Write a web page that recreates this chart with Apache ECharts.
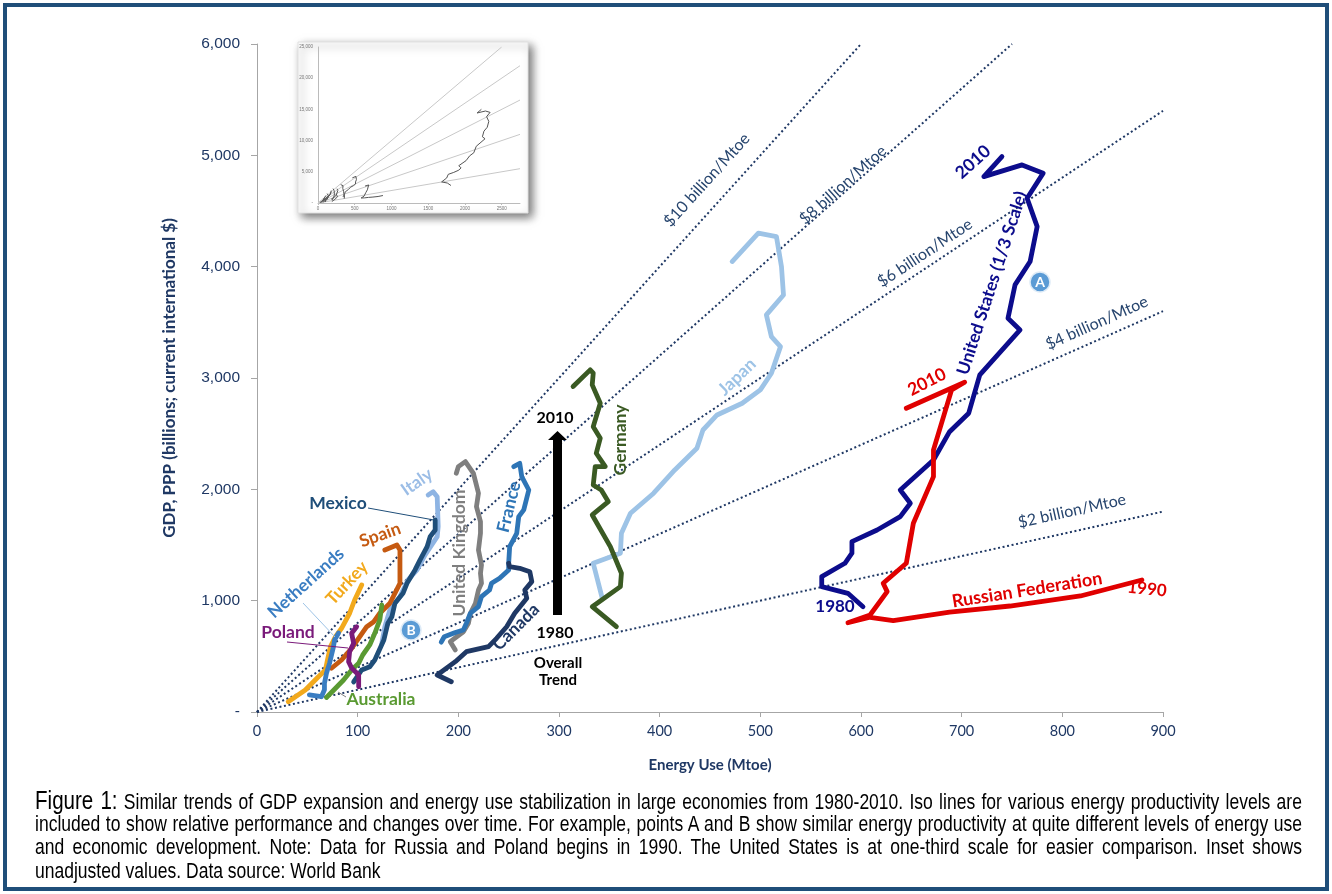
<!DOCTYPE html>
<html>
<head>
<meta charset="UTF-8">
<title>Energy use vs GDP</title>
<script src="https://cdn.jsdelivr.net/npm/echarts@6/dist/echarts.min.js"></script>
<style>
body{margin:0;background:#fff;}
#frame{position:absolute;left:3px;top:3px;width:1318px;height:880px;border:4px solid #1f4e79;}
#box{position:absolute;left:0;top:0;width:1332px;height:894px;}
#cap{position:absolute;left:35px;top:789px;width:1267px;font-family:'Liberation Sans',sans-serif;font-size:21.3px;color:#000;}
#cap div{width:1540px;height:23.5px;line-height:23.5px;text-align:justify;text-align-last:justify;transform:scaleX(0.8227);transform-origin:0 0;}
#cap div.last{text-align-last:left;}
#cap .fig{font-size:25px;}
</style>
</head>
<body>
<div id="frame"></div>
<div id="box"></div>
<div id="cap">
<div><span class="fig">Figure 1:</span> Similar trends of GDP expansion and energy use stabilization in large economies from 1980-2010. Iso lines for various energy productivity levels are</div>
<div>included to show relative performance and changes over time. For example, points A and B show similar energy productivity at quite different levels of energy use</div>
<div>and economic development. Note: Data for Russia and Poland begins in 1990. The United States is at one-third scale for easier comparison. Inset shows</div>
<div class="last">unadjusted values. Data source: World Bank</div>
</div>

<script type="text/javascript">

// energy use (Mtoe), GDP PPP (billions)
var isoLevels=[2,4,6,8,10];
var isoNames=['$2 billion/Mtoe','$4 billion/Mtoe','$6 billion/Mtoe','$8 billion/Mtoe','$10 billion/Mtoe'];

var germany=[[357,766],[333,946],[361,1126],[362,1246],[351,1485],[333,1770],[349,1889],[342,1994],[334,2039],[336,2204],[346,2204],[337,2324],[341,2459],[334,2563],[341,2773],[333,2938],[334,3043],[331,3073],[314,2923]];
var japan=[[343,1020],[334,1336],[361,1426],[362,1605],[371,1785],[394,1965],[415,2174],[437,2369],[443,2533],[457,2668],[482,2773],[500,2893],[511,3043],[520,3282],[511,3372],[506,3567],[523,3746],[521,4001],[516,4270],[498,4301],[472,4046]];
// US plotted at 1/3 scale
var us=[[602,946],[587,1066],[561,1126],[561,1216],[584,1336],[591,1426],[591,1530],[616,1635],[639,1755],[649,1875],[639,1994],[672,2264],[688,2518],[707,2684],[718,3028],[758,3432],[746,3537],[753,3836],[768,4046],[775,4360],[765,4615],[781,4840],[760,4914],[722,4809],[740,4989]];
var russia=[[879,1186],[818,1042],[748,952],[688,898],[632,820],[609,851],[587,802],[609,871],[626,1081],[622,1156],[645,1336],[652,1695],[672,2114],[672,2354],[690,2893],[703,2962],[645,2728]];
var canada=[[193,272],[179,332],[197,452],[208,542],[230,587],[238,662],[248,766],[256,887],[268,1021],[266,1096],[273,1171],[271,1260],[261,1291],[251,1305],[250,1336]];
var france=[[183,627],[186,676],[197,714],[205,737],[208,797],[212,887],[220,946],[223,1036],[231,1096],[233,1156],[241,1201],[250,1276],[250,1336],[251,1485],[258,1605],[260,1755],[265,1815],[270,1994],[263,2114],[261,2234],[255,2204]];
var uk=[[197,557],[192,632],[205,721],[210,797],[212,887],[217,977],[220,1096],[223,1156],[222,1246],[223,1321],[220,1455],[222,1605],[222,1710],[218,1845],[220,1965],[215,2144],[207,2249],[200,2204],[198,2144]];
var italy=[[124,617],[127,766],[132,916],[142,1036],[150,1186],[159,1276],[167,1411],[179,1575],[180,1665],[179,1934],[175,1979],[170,1950]];
var mexico=[[96,270],[104,377],[112,407],[117,467],[126,647],[130,797],[134,856],[137,977],[145,1066],[149,1156],[157,1276],[162,1366],[169,1485],[172,1575],[177,1635],[177,1725]];
var spain=[[74,393],[84,467],[94,572],[109,766],[116,811],[122,887],[132,977],[142,1156],[142,1276],[142,1455],[139,1500],[127,1455]];
var turkey=[[31,93],[48,198],[61,317],[68,377],[70,467],[73,587],[78,677],[84,752],[92,887],[97,1006],[104,1141]];
var netherlands=[[52,153],[64,137],[67,200],[67,258],[69,348],[72,437],[76,587],[77,647],[81,710]];
var poland=[[101,227],[101,332],[94,395],[91,452],[92,542],[96,617],[94,707],[99,766]];
var australia=[[69,130],[78,213],[86,287],[94,377],[101,438],[105,512],[112,602],[117,707],[122,827],[124,961]];

var insetXMax=2750, insetYMax=25000;

var mychart=echarts.init(document.getElementById('box'));

function path(data,color,z,xi){
  return {type:'line',data:data,xAxisIndex:xi||0,yAxisIndex:xi||0,symbol:'none',smooth:false,silent:true,z:z,
    lineStyle:{color:color,width:xi?1:4.8,cap:'round',join:'round'}};
}

function isoLine(level,xmax,ymax,style,xi){
  var xe=Math.min(xmax,ymax/level);
  return {type:'line',data:[[0,0],[xe,level*xe]],xAxisIndex:xi||0,yAxisIndex:xi||0,symbol:'none',silent:true,z:1,lineStyle:style};
}

function label(text,x,y,rot,color,size,weight,font){
  return {type:'text',x:x,y:y,rotation:rot*Math.PI/180,z:50,
    style:{text:text,fill:color,font:(weight||'bold')+' '+size+'px '+(font||'Lato, sans-serif'),
      align:'center',verticalAlign:'middle',textAlign:'center',textVerticalAlign:'middle'}};
}
function lead(x1,y1,x2,y2,color){
  return {type:'line',z:40,shape:{x1:x1,y1:y1,x2:x2,y2:y2},style:{stroke:color,lineWidth:1}};
}

var series=[];
isoLevels.forEach(function(l){
  series.push(isoLine(l,900,6000,{color:'#1f3864',width:2,type:[2,2.6]},0));
});
series.push(path(italy,'#8eb4e3',3));
series.push(path(mexico,'#1f4e79',4));
series.push(path(japan,'#9dc3e6',3));
series.push(path(germany,'#3a5a23',4));
series.push(path(uk,'#7f7f7f',3));
series.push(path(france,'#2e75b6',4));
series.push(path(canada,'#1f3864',5));
series.push(path(us,'#0c0c8c',4));
series.push(path(russia,'#e00000',5));
series.push(path(spain,'#c55a11',4));
series.push(path(turkey,'#f2a91c',5));
series.push(path(netherlands,'#3a7dc2',6));
series.push(path(australia,'#5a9a32',6));
series.push(path(poland,'#7a1a7a',7));

// inset: unadjusted values
isoLevels.forEach(function(l){
  series.push(isoLine(l,insetXMax,insetYMax,{color:'#c8c8c8',width:1},1));
});
[germany,japan,russia,canada,france,uk,italy,mexico,spain,turkey,netherlands,poland,australia].forEach(function(d){
  series.push(path(d,'#555555',3,1));
});
series.push(path(us.map(function(p){return [p[0]*3,p[1]*3];}),'#555555',3,1));

var navy='#1f3864';
var isoColor='#27456e';

var option={
  animation:false,
  grid:[
    {left:257,right:169,top:44,bottom:182},
    {left:318,right:812,top:47,bottom:691}
  ],
  xAxis:[
    {type:'value',min:0,max:900,interval:100,
     name:'Energy Use (Mtoe)',nameLocation:'middle',nameGap:46,
     nameTextStyle:{color:navy,fontFamily:'Lato',fontWeight:'bold',fontSize:15},
     axisLine:{lineStyle:{color:'#a6a6a6'}},axisTick:{length:5,lineStyle:{color:'#a6a6a6'}},
     axisLabel:{color:navy,fontFamily:'Lato',fontSize:14.5,margin:12},splitLine:{show:false}},
    {gridIndex:1,type:'value',min:0,max:insetXMax,interval:500,
     axisLine:{lineStyle:{color:'#bbbbbb'}},axisTick:{length:2,lineStyle:{color:'#bbbbbb'}},
     axisLabel:{color:'#777',fontSize:4.5,margin:3,showMaxLabel:false,formatter:function(v){return String(v);}},splitLine:{show:false}}
  ],
  yAxis:[
    {type:'value',min:0,max:6000,interval:1000,
     name:'GDP, PPP (billions; current international $)',nameLocation:'middle',nameGap:79,
     nameTextStyle:{color:navy,fontFamily:'Lato',fontWeight:'bold',fontSize:17},
     axisLine:{show:true,lineStyle:{color:'#a6a6a6'}},axisTick:{show:true,length:6,lineStyle:{color:'#a6a6a6'}},
     axisLabel:{color:navy,fontFamily:'Liberation Sans',fontSize:15.5,margin:17,
       formatter:function(v){return v===0?'-':v.toLocaleString('en-US');}},
     splitLine:{show:false}},
    {gridIndex:1,type:'value',min:0,max:insetYMax,interval:5000,
     axisLine:{show:true,lineStyle:{color:'#bbbbbb'}},axisTick:{show:false},
     axisLabel:{color:'#777',fontSize:4.5,margin:5,
       formatter:function(v){return v===0?'-':v.toLocaleString('en-US');}},
     splitLine:{show:false}}
  ],
  series:series,
  graphic:[
    {type:'rect',z:-1,shape:{x:298,y:42,width:230,height:171},
     style:{fill:'#fff',stroke:'#e0e0e0',lineWidth:1,shadowBlur:9,shadowOffsetX:4,shadowOffsetY:4,shadowColor:'rgba(0,0,0,0.55)'}},
    // iso-line labels
    label(isoNames[4],707,180,47.9,isoColor,16,'normal'),
    label(isoNames[3],843,185,41.5,isoColor,16,'normal'),
    label(isoNames[2],925,253,33.6,isoColor,16,'normal'),
    label(isoNames[1],1097,323,23.9,isoColor,16,'normal'),
    label(isoNames[0],1072,511,12.5,isoColor,16,'normal'),
    // country labels
    label('Mexico',338,503,0,'#1f4e79',17.5),
    lead(368,508,434,520,'#1f4e79'),
    label('Italy',417,482,35,'#9bbde6',17.5),
    label('Spain',380,535,20,'#c55a11',17.5),
    label('Netherlands',306,583,42,'#3a7dc2',17.5),
    lead(303,603,335,637,'#9dc3e6'),
    label('Turkey',347,583,47,'#f2a91c',17.5),
    label('Poland',288,632,0,'#7a1a7a',17.5),
    lead(287,642,348,648,'#7a1a7a'),
    label('Australia',381,699,0,'#5a9a32',17.5),
    lead(338,692,346,697,'#7f7f7f'),
    label('United Kingdom',459,553,90,'#7f7f7f',17.5),
    label('France',509,507,76,'#2e75b6',17.5),
    label('Canada',516,627,45,'#1f3864',17.5),
    label('Germany',620,440,90,'#3a5a23',17.5),
    label('Japan',737,377,44,'#9dc3e6',17.5),
    label('United States (1/3 Scale)',992,283,72,'#0c0c8c',17.5),
    label('2010',973,162,42,'#0c0c8c',17.5),
    label('1980',835,607,0,'#0c0c8c',17),
    label('2010',927,382,27,'#e00000',17.5),
    label('Russian Federation',1027,590,9,'#e00000',18),
    label('1990',1147,589,-6,'#e00000',17),
    // A / B markers
    {type:'circle',z:45,shape:{cx:411,cy:630,r:10},style:{fill:'#5b9bd5',stroke:'#deebf7',lineWidth:1.5}},
    label('B',411,630,0,'#fff',14),
    {type:'circle',z:45,shape:{cx:1040,cy:282,r:10},style:{fill:'#5b9bd5',stroke:'#deebf7',lineWidth:1.5}},
    label('A',1040,282,0,'#fff',14),
    // overall trend arrow
    {type:'polygon',z:45,shape:{points:[[553,615],[562,615],[562,440],[567,440],[557.5,431],[548,440],[553,440]]},style:{fill:'#000'}},
    label('2010',555,418,0,'#000',16),
    label('1980',555,633,0,'#000',16),
    label('Overall',558,663,0,'#000',15),
    label('Trend',558,680,0,'#000',15)
  ]
};

mychart.setOption(option);
</script>
</body>
</html>
